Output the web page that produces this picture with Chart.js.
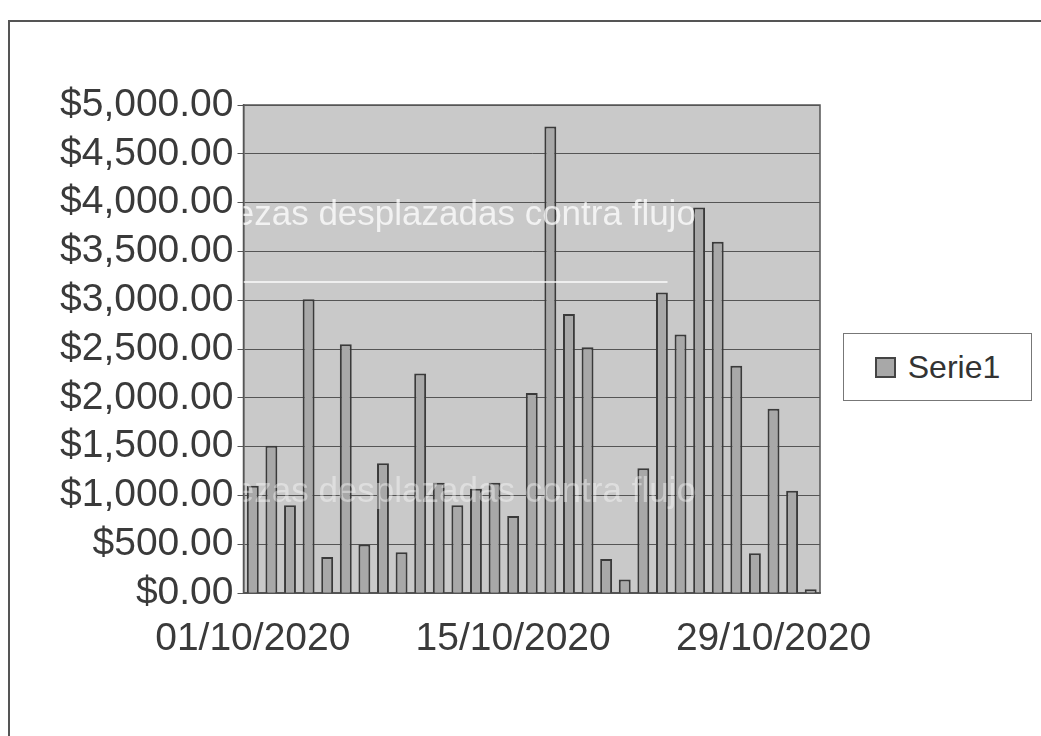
<!DOCTYPE html>
<html>
<head>
<meta charset="utf-8">
<script src="https://cdn.jsdelivr.net/npm/chart.js@4/dist/chart.umd.min.js"></script>
<style>
  html, body { margin: 0; padding: 0; background: #fff; }
  .frame { position: relative; width: 1041px; height: 736px; }
  .border { position: absolute; left: 8px; top: 20px; right: -2px; bottom: -2px; border: 2px solid #555; }
  #legend {
    position: absolute; left: 843px; top: 333px; width: 187px; height: 66px;
    border: 1px solid #777; background: #fff;
    font-family: "Liberation Sans", Arial, sans-serif; font-size: 32px; color: #333;
    display: flex; align-items: center; justify-content: center; gap: 12px;
  }
  #legend .box { width: 17px; height: 17px; background: #a8a8a8; border: 2px solid #444; }
</style>
</head>
<body>
<div class="frame">
  <div class="border"></div>
  <canvas id="chart" width="1041" height="736"></canvas>
  <div id="legend"></div>
</div>
<script>
// Oct 2020, one value per day
const days = [
  '01/10/2020', '02/10/2020', '03/10/2020', '04/10/2020', '05/10/2020', '06/10/2020', '07/10/2020',
  '08/10/2020', '09/10/2020', '10/10/2020', '11/10/2020', '12/10/2020', '13/10/2020', '14/10/2020',
  '15/10/2020', '16/10/2020', '17/10/2020', '18/10/2020', '19/10/2020', '20/10/2020', '21/10/2020',
  '22/10/2020', '23/10/2020', '24/10/2020', '25/10/2020', '26/10/2020', '27/10/2020', '28/10/2020',
  '29/10/2020', '30/10/2020', '31/10/2020'
];
const serie1 = [
  1100, 1510, 900, 3010, 370, 2550, 500, 1330, 420, 2250, 1130,
  900, 1070, 1130, 790, 2050, 4780, 2860, 2520, 350, 140,
  1280, 3080, 2650, 3950, 3600, 2330, 410, 1890, 1050, 40
];
const shownTicks = [0, 14, 28];
const ghostText = 'piezas desplazadas contra flujo';

const fontFamily = '"Liberation Sans", Arial, sans-serif';

const plotBg = {
  id: 'plotBg',
  beforeDraw(chart) {
    const { ctx, chartArea: a } = chart;
    ctx.save();
    ctx.fillStyle = '#c9c9c9';
    ctx.fillRect(a.left, a.top, a.right - a.left, a.bottom - a.top);
    ctx.strokeStyle = '#555';
    ctx.lineWidth = 1.5;
    ctx.strokeRect(a.left, a.top, a.right - a.left, a.bottom - a.top);
    ctx.restore();
  },
  afterDatasetsDraw(chart) {
    // faint bleed-through from the scan
    const { ctx, chartArea: a } = chart;
    ctx.save();
    ctx.beginPath();
    ctx.rect(a.left, a.top, a.right - a.left, a.bottom - a.top);
    ctx.clip();
    ctx.font = '35px ' + fontFamily;
    ctx.fillStyle = 'rgba(255,255,255,0.75)';
    ctx.textBaseline = 'middle';
    ctx.fillText(ghostText, a.left - 36, 215);
    ctx.fillStyle = 'rgba(255,255,255,0.4)';
    ctx.fillText(ghostText, a.left - 36, 492);
    ctx.fillStyle = 'rgba(255,255,255,0.7)';
    ctx.fillRect(a.left, 281, 424, 2);
    ctx.restore();
  }
};

const chart = new Chart(document.getElementById('chart'), {
  type: 'bar',
  data: {
    labels: days,
    datasets: [{
      label: 'Serie1',
      data: serie1,
      backgroundColor: '#a8a8a8',
      borderColor: '#3a3a3a',
      borderWidth: 2,
      barPercentage: 0.64,
      categoryPercentage: 1
    }]
  },
  options: {
    responsive: false,
    animation: false,
    layout: { padding: { left: 56, right: 221, top: 105, bottom: 58 } },
    plugins: { legend: { display: false }, tooltip: { enabled: false } },
    scales: {
      x: {
        grid: { display: false },
        border: { color: '#555', width: 1.5 },
        ticks: {
          autoSkip: false,
          maxRotation: 0,
          color: '#3a3a3a',
          font: { family: fontFamily, size: 39 },
          padding: 15,
          callback: (v, i) => shownTicks.includes(i) ? days[i] : ''
        }
      },
      y: {
        min: 0,
        max: 5000,
        ticks: {
          stepSize: 500,
          autoSkip: false,
          color: '#3a3a3a',
          font: { family: fontFamily, size: 39 },
          padding: 4,
          callback: (v) => '$' + v.toLocaleString('en-US', { minimumFractionDigits: 2, maximumFractionDigits: 2 })
        },
        grid: { color: '#555', lineWidth: 1, tickLength: 6 },
        border: { color: '#555', width: 1.5 }
      }
    }
  },
  plugins: [plotBg]
});

const legend = document.getElementById('legend');
chart.data.datasets.forEach((ds) => {
  legend.innerHTML += '<span class="box"></span><span>' + ds.label + '</span>';
});
</script>
</body>
</html>
